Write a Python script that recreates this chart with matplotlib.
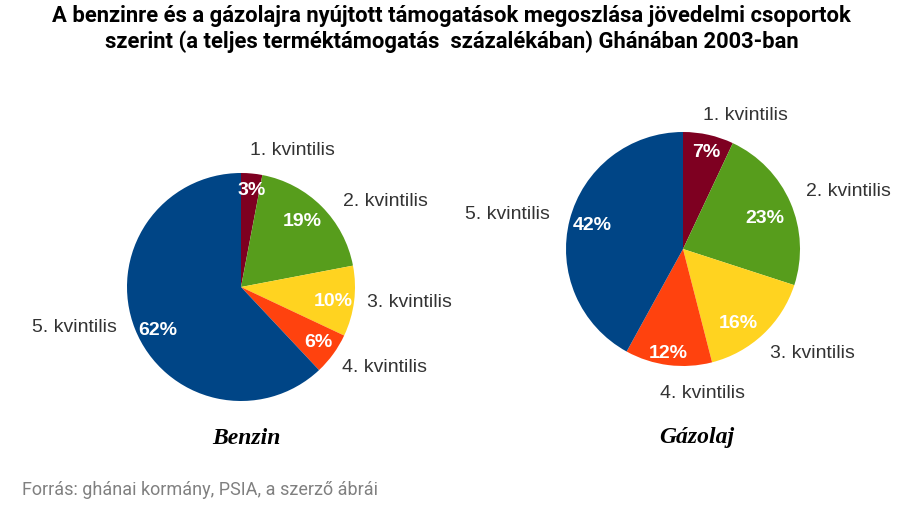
import numpy as np
import matplotlib.pyplot as plt

labels = ["1. kvintilis", "2. kvintilis", "3. kvintilis", "4. kvintilis", "5. kvintilis"]
benzin = [3, 19, 10, 6, 62]
gazolaj = [7, 23, 16, 12, 42]
colors = ["#7e0021", "#579d1c", "#ffd320", "#ff420e", "#004586"]

title = ("A benzinre és a gázolajra nyújtott támogatások megoszlása jövedelmi csoportok\n"
         "szerint (a teljes terméktámogatás  százalékában) Ghánában 2003-ban")
source = "Forrás: ghánai kormány, PSIA, a szerző ábrái"

W, H = 903, 512
fig = plt.figure(figsize=(W / 100, H / 100), dpi=100)


def place(texts, wedges, layout):
    # layout: (distance in radii, angle shift in degrees from the wedge middle)
    for w, t, (d, shift) in zip(wedges, texts, layout):
        ang = np.deg2rad((w.theta1 + w.theta2) / 2 + shift)
        t.set_position((d * np.cos(ang), d * np.sin(ang)))


def draw_pie(cx, cy, r, values, name, name_x, lab_layout, pct_layout):
    ax = fig.add_axes([(cx - r) / W, (H - cy - r) / H, 2 * r / W, 2 * r / H])
    wedges, texts, autotexts = ax.pie(
        values, labels=labels, colors=colors, startangle=90, counterclock=False,
        autopct="%d%%", pctdistance=0.8, labeldistance=1.15,
        wedgeprops=dict(linewidth=0),
        textprops=dict(fontsize=14, color="#333333", family="Liberation Sans"))
    place(texts, wedges, lab_layout)
    place(autotexts, wedges, pct_layout)
    for t in autotexts:
        t.set_color("white")
        t.set_fontweight("bold")
    ax.set_xlim(-1, 1)
    ax.set_ylim(-1, 1)
    ax.set_aspect("equal")
    fig.text(name_x / W, 1 - 438 / H, name, ha="center", va="center", fontsize=17,
             family="Liberation Serif", fontweight="bold", fontstyle="italic")
    return ax, texts, autotexts


ax1, t1, a1 = draw_pie(
    241, 287, 114, benzin, "Benzin", 246,
    [(1.196, 1.6), (1.165, -5.2), (1.113, 0.4), (1.13, -2.4), (1.143, -3.7)],
    [(0.856, -1), (0.79, 2), (0.82, -2), (0.835, 0), (0.82, 5.8)])
ax2, t2, a2 = draw_pie(
    683, 249, 117, gazolaj, "Gázolaj", 697,
    [(1.15, 4), (1.159, 1.5), (1.159, -3.3), (1.243, 15.1), (1.173, 0)],
    [(0.846, -1), (0.75, -3), (0.79, -6.6), (0.9, -1), (0.8, 0)])
t2[3].set_ha("center")

fig.text(0.5, 1 - 5 / H, title, ha="center", va="top", fontsize=15.8,
         fontweight="bold", family="Roboto", linespacing=1.22)
fig.text(22 / W, 1 - 490 / H, source, ha="left", va="center", fontsize=13,
         color="#808080", family="Roboto")

fig.savefig("out.png", dpi=100)
